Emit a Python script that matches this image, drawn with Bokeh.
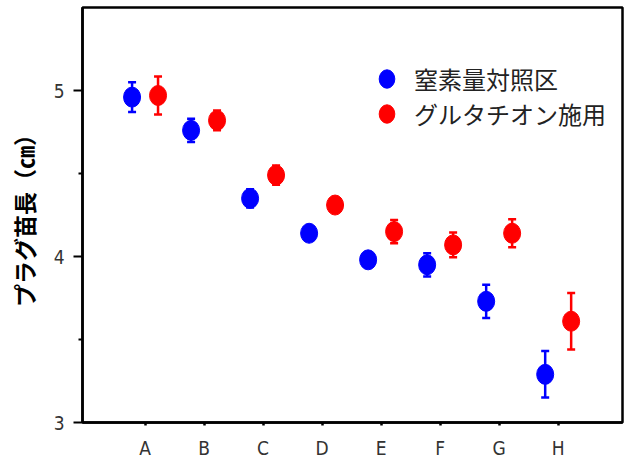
import numpy as np
from bokeh.plotting import figure
from bokeh.models import (Range1d, FixedTicker, ColumnDataSource, Whisker, TeeHead,
                          Legend, LegendItem)
from bokeh.embed import file_html
from bokeh.resources import INLINE

# ---- data ----
categories = ["A", "B", "C", "D", "E", "F", "G", "H"]
control_mean = [4.96, 4.76, 4.35, 4.14, 3.98, 3.95, 3.73, 3.29]
control_err = [0.09, 0.07, 0.055, 0.04, 0.04, 0.07, 0.10, 0.14]
gsh_mean = [4.97, 4.82, 4.49, 4.31, 4.15, 4.07, 4.14, 3.61]
gsh_err = [0.115, 0.06, 0.058, 0.04, 0.07, 0.075, 0.085, 0.17]
series_names = ["窒素量対照区", "グルタチオン施用"]
y_ticks = [3, 4, 5]
y_minor = [3.5, 4.5]

BLUE = "#0000ff"
RED = "#ff0000"
OFFSET = 0.22
TICK_FONT = "'Liberation Sans Narrow', 'DejaVu Sans Condensed', 'DejaVu Sans', sans-serif"
JP_FONT = "'Noto Sans CJK JP', sans-serif"

pos = np.arange(1, len(categories) + 1)


def make_source(mean, err, shift):
    m = np.array(mean)
    e = np.array(err)
    return ColumnDataSource(dict(x=pos + shift, y=m, upper=m + e, lower=m - e))


src_c = make_source(control_mean, control_err, -OFFSET)
src_g = make_source(gsh_mean, gsh_err, OFFSET)

p = figure(frame_width=540, frame_height=415, title=None,
           x_range=Range1d(-0.06, 9.09), y_range=Range1d(3, 5.5),
           output_backend="svg", toolbar_location=None,
           min_border_left=82, min_border_right=9, min_border_top=7,
           min_border_bottom=39)

p.xgrid.visible = False
p.ygrid.visible = False
p.outline_line_color = "black"
p.outline_line_width = 2.5
p.outline_line_alpha = 1.0
p.background_fill_color = "white"
p.border_fill_color = "white"

# error bars
for src, col in ((src_c, BLUE), (src_g, RED)):
    w = Whisker(source=src, base="x", upper="upper", lower="lower",
                line_color=col, line_width=2.5,
                upper_head=TeeHead(size=8, line_color=col, line_width=2.5),
                lower_head=TeeHead(size=8, line_color=col, line_width=2.5))
    w.level = "underlay"
    p.add_layout(w)

r_c = p.ellipse(x="x", y="y", width=17, height=20, width_units="screen",
                height_units="screen", source=src_c, fill_color=BLUE, line_color=BLUE)
r_g = p.ellipse(x="x", y="y", width=17, height=20, width_units="screen",
                height_units="screen", source=src_g, fill_color=RED, line_color=RED)

# y axis
ya = p.yaxis[0]
ya.ticker = FixedTicker(ticks=y_ticks, minor_ticks=y_minor)
ya.major_tick_out = 9
ya.major_tick_in = 0
ya.minor_tick_out = 4
ya.minor_tick_in = 0
ya.major_tick_line_width = 2
ya.minor_tick_line_width = 2
ya.axis_line_width = 2.5
ya.axis_line_color = "black"
ya.major_label_text_font = TICK_FONT
ya.major_label_text_font_size = "19px"
ya.major_label_text_color = "#333333"
ya.major_label_standoff = 9
ya.axis_label = "プラグ苗長（㎝）"
ya.axis_label_text_font = JP_FONT
ya.axis_label_text_font_style = "bold"
ya.axis_label_text_font_size = "23px"
ya.axis_label_text_color = "black"
ya.axis_label_standoff = 10

# x axis
xa = p.xaxis[0]
xa.ticker = FixedTicker(ticks=list(pos), minor_ticks=[])
xa.major_label_overrides = {int(i): c for i, c in zip(pos, categories)}
xa.major_tick_out = 3
xa.major_tick_in = 0
xa.major_tick_line_width = 2.5
xa.minor_tick_line_color = None
xa.axis_line_width = 2.5
xa.axis_line_color = "black"
xa.major_label_text_font = TICK_FONT
xa.major_label_text_font_size = "19px"
xa.major_label_text_color = "#333333"
xa.major_label_standoff = 11

# legend
legend = Legend(items=[LegendItem(label=series_names[0], renderers=[r_c]),
                       LegendItem(label=series_names[1], renderers=[r_g])],
                location=(293, 291))
legend.border_line_color = None
legend.background_fill_alpha = 0
legend.padding = 0
legend.margin = 0
legend.glyph_width = 23
legend.glyph_height = 35
legend.label_height = 35
legend.spacing = 0
legend.label_standoff = 16
legend.label_text_font = JP_FONT
legend.label_text_font_size = "24px"
legend.label_text_color = "#222222"
p.add_layout(legend)

open("out.html", "w").write(file_html(p, INLINE))
